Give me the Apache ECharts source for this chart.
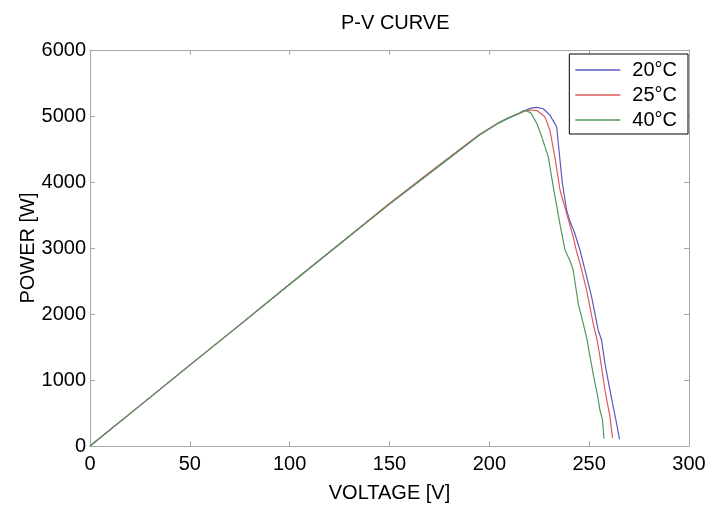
<!DOCTYPE html>
<html>
<head>
<meta charset="utf-8">
<script src="https://cdn.jsdelivr.net/npm/echarts@6/dist/echarts.min.js"></script>
<style>
html,body{margin:0;padding:0;background:#fff;}
#chart{width:713px;height:510px;}
</style>
</head>
<body>
<div id="chart"></div>
<script>
// ---- data ----
const titleText = 'P-V CURVE';
const xName = 'VOLTAGE [V]';
const yName = 'POWER [W]';
const seriesNames = ['20\u00B0C', '25\u00B0C', '40\u00B0C'];
const xTicks = [0, 50, 100, 150, 200, 250, 300];
const yTicks = [0, 1000, 2000, 3000, 4000, 5000, 6000];

// shared rising part [voltage, power]
const riseV = [0, 25, 50, 75, 100, 125, 150, 175, 195, 205, 210, 215];
const riseP = [0, 612, 1225, 1835, 2450, 3060, 3665, 4245, 4712, 4900, 4975, 5040];
const riseP25 = [0, 612, 1225, 1835, 2450, 3060, 3680, 4262, 4720, 4905, 4978, 5042];

// tails after the peak
const tail20V = [218, 221, 223.7, 227, 230.3, 232.5, 233.7, 235, 236.5, 238.7, 240.4, 242.5, 245.4, 247.9, 251.2, 254.5, 256.2, 257.9, 260.4, 262, 263.4, 265.2];
const tail20P = [5085, 5120, 5131, 5110, 5015, 4900, 4838, 4450, 4000, 3576, 3400, 3250, 2970, 2667, 2262, 1758, 1606, 1253, 848, 600, 394, 100];

const tail25V = [218, 220.3, 224, 227.8, 230.3, 232.8, 235.4, 238.7, 242, 243.5, 245.4, 248.7, 252, 254, 255.4, 257.9, 260.4, 261.7];
const tail25P = [5075, 5091, 5080, 4990, 4788, 4384, 3879, 3525, 3171, 2970, 2768, 2364, 1859, 1606, 1353, 848, 444, 120];

const tail40V = [217, 219, 221, 222, 224, 226.2, 229.5, 232, 235.3, 237.9, 240.5, 242, 244.5, 247, 249, 249.8, 252.9, 253.7, 255.4, 256.7, 257.4];
const tail40P = [5080, 5075, 5040, 5015, 4870, 4687, 4384, 3929, 3374, 2970, 2800, 2667, 2162, 1859, 1606, 1455, 950, 848, 545, 394, 110];

const colors = ['#5a5ac0', '#e05a5a', '#4e9a5e'];

function pairs(vs, ps) { return vs.map((v, i) => [v, ps[i]]); }
const data20 = pairs(riseV, riseP).concat(pairs(tail20V, tail20P));
const data25 = pairs(riseV, riseP25).concat(pairs(tail25V, tail25P));
const data40 = pairs(riseV, riseP).concat(pairs(tail40V, tail40P));

const FONT = "'Liberation Sans', Arial, sans-serif";
const chart = echarts.init(document.getElementById('chart'), null, {renderer: 'canvas'});

const axisGray = '#a8a8a8';
function baseAxis(extra) {
  return Object.assign({
    axisLine: {show: true, onZero: false, lineStyle: {color: axisGray, width: 1}},
    axisTick: {show: true, inside: true, length: 5, lineStyle: {color: axisGray}},
    splitLine: {show: false},
  }, extra);
}

chart.setOption({
  animation: false,
  backgroundColor: '#fff',
  color: colors,
  title: {
    text: titleText,
    left: 336, top: 8,
    textStyle: {fontFamily: FONT, fontSize: 20, fontWeight: 'normal', color: '#000'}
  },
  grid: {left: 90, right: 24, top: 50, bottom: 64, containLabel: false},
  legend: {
    orient: 'vertical',
    right: 25, top: 54,
    data: seriesNames,
    icon: 'rect',
    itemWidth: 45, itemHeight: 1.5,
    itemGap: 5,
    padding: [6, 11, 4, 6],
    borderColor: '#000', borderWidth: 1,
    backgroundColor: '#fff',
    textStyle: {fontFamily: FONT, fontSize: 20, color: '#000', lineHeight: 20, padding: [0, 0, 0, 7]}
  },
  xAxis: [
    baseAxis({
      type: 'value', min: 0, max: 300, interval: 50, position: 'bottom',
      name: xName, nameLocation: 'middle', nameGap: 37, nameMoveOverlap: false,
      nameTextStyle: {fontFamily: FONT, fontSize: 20, color: '#000'},
      axisLabel: {fontFamily: FONT, fontSize: 20, color: '#000', margin: 8,
        formatter: v => xTicks.includes(v) ? String(v) : ''}
    }),
    baseAxis({type: 'value', min: 0, max: 300, interval: 50, position: 'top', axisLabel: {show: false}})
  ],
  yAxis: [
    baseAxis({
      type: 'value', min: 0, max: 6000, interval: 1000, position: 'left',
      name: yName, nameLocation: 'middle', nameGap: 52, nameMoveOverlap: false,
      nameTextStyle: {fontFamily: FONT, fontSize: 20, color: '#000'},
      axisLabel: {fontFamily: FONT, fontSize: 20, color: '#000', margin: 4,
        formatter: v => yTicks.includes(v) ? String(v) : ''}
    }),
    baseAxis({type: 'value', min: 0, max: 6000, interval: 1000, position: 'right', axisLabel: {show: false}})
  ],
  series: [
    {name: seriesNames[0], type: 'line', data: data20, showSymbol: false, symbol: 'none',
      lineStyle: {width: 1.2, color: colors[0]}, itemStyle: {color: colors[0]}, xAxisIndex: 0, yAxisIndex: 0},
    {name: seriesNames[1], type: 'line', data: data25, showSymbol: false, symbol: 'none',
      lineStyle: {width: 1.2, color: colors[1]}, itemStyle: {color: colors[1]}, xAxisIndex: 0, yAxisIndex: 0},
    {name: seriesNames[2], type: 'line', data: data40, showSymbol: false, symbol: 'none',
      lineStyle: {width: 1.2, color: colors[2]}, itemStyle: {color: colors[2]}, xAxisIndex: 0, yAxisIndex: 0}
  ]
});
</script>
</body>
</html>
